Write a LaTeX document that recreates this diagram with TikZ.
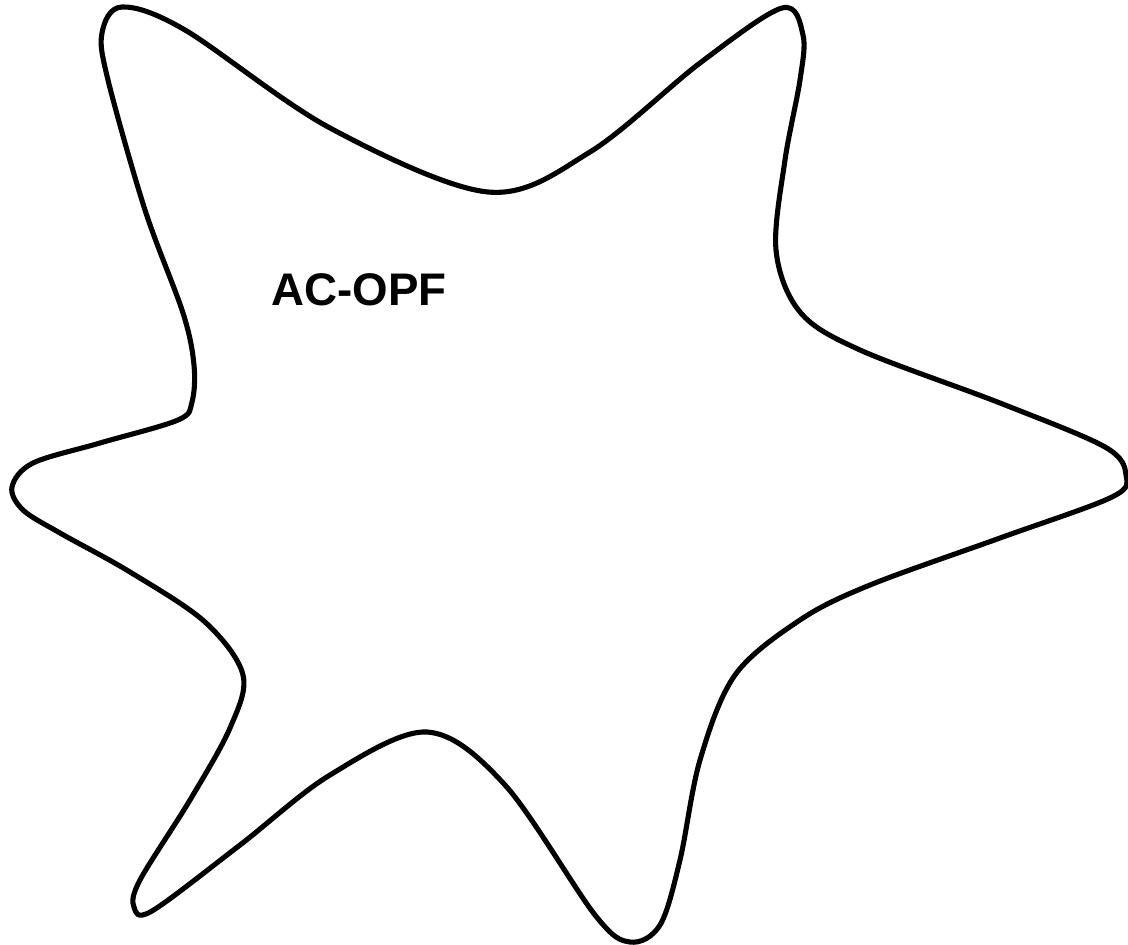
\documentclass[tikz,border=0pt]{standalone}
\usepackage{fontspec}
\setmainfont{Liberation Sans}
\begin{document}
\begin{tikzpicture}[
        x=0.02cm, y=-0.02cm,
        outline/.style={draw, line width=2.9pt, line join=round},
        every node/.style={font=\bfseries\fontsize{26}{30}\selectfont},
      ]
      \useasboundingbox (0,0) rectangle (1128,945);

      \draw[outline] plot[smooth cycle, tension=0.55] coordinates {
        (122,7) (185,30) (330,128) (488,192) (590,152) (700,63)
        (782,8) (803,35) (800,80) (785,160) (776,250) (800,312)
        (860,350) (1000,403) (1105,447) (1126,475) (1112,497) (1000,538)
        (870,585) (800,620) (735,675) (700,760) (680,860) (660,925)
        (630,942) (595,915) (505,785) (427,732) (330,775) (240,845)
        (152,911) (134,907) (140,880) (190,800) (230,728) (243,675)
        (205,622) (130,572) (60,533) (23,510) (12,487) (33,463)
        (100,443) (178,420) (192,402) (194,365) (183,313) (145,210)
        (108,80) (102,33)
      };

      \node (opf) at (359,290) {AC-OPF};

    \end{tikzpicture}
\end{document}
